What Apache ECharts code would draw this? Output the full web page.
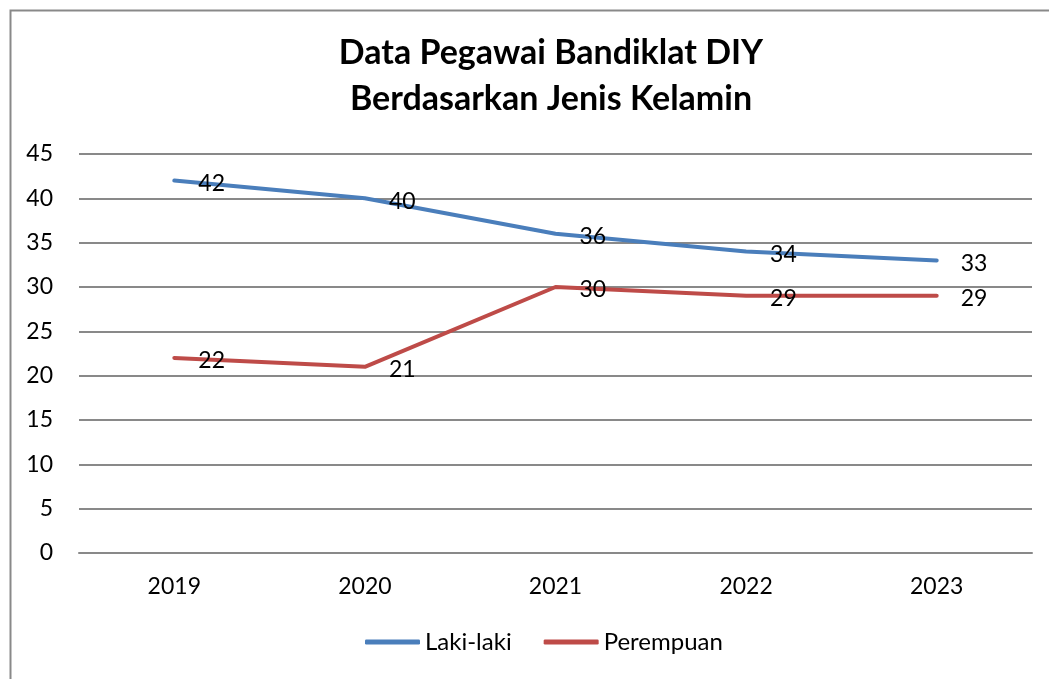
<!DOCTYPE html>
<html>
<head>
<meta charset="utf-8">
<script src="https://cdn.jsdelivr.net/npm/echarts@6/dist/echarts.min.js"></script>
<style>
  html, body { margin: 0; padding: 0; background: #fff; }
  #chart { width: 1049px; height: 679px; }
</style>
</head>
<body>
<div id="chart"></div>
<script>
const years = ['2019', '2020', '2021', '2022', '2023'];
const lakiLaki = [42, 40, 36, 34, 33];
const perempuan = [22, 21, 30, 29, 29];

const chart = echarts.init(document.getElementById('chart'));
const font = 'Lato, "Open Sans", sans-serif';

const labelStyle = {
    show: true,
    position: 'right',
    distance: 24,
    offset: [0, 3],
    color: '#000',
    fontSize: 23,
    fontFamily: font
};

const option = {
    backgroundColor: '#fff',
    animation: false,
    graphic: [{
        // outer chart border
        type: 'rect',
        shape: { x: 10.5, y: 10.5, width: 1080, height: 720 },
        style: { fill: 'none', stroke: '#898989', lineWidth: 2 }
    }],
    title: {
        text: 'Data Pegawai Bandiklat DIY\nBerdasarkan Jenis Kelamin',
        left: 546,
        textAlign: 'center',
        top: 25,
        textStyle: {
            fontFamily: font,
            fontWeight: 'bold',
            fontSize: 34,
            lineHeight: 46,
            color: '#000'
        }
    },
    legend: {
        bottom: 20,
        left: 360,
        itemWidth: 55,
        itemHeight: 5,
        itemGap: 32,
        icon: 'roundRect',
        textStyle: { fontFamily: font, fontSize: 24, color: '#000', padding: [0, 0, 0, 0] },
        data: ['Laki-laki', 'Perempuan']
    },
    grid: {
        left: 79,
        right: 17,
        top: 154,
        bottom: 126,
        containLabel: false
    },
    xAxis: {
        type: 'category',
        data: years,
        boundaryGap: true,
        axisLine: { show: true, lineStyle: { color: '#898989', width: 2 } },
        axisTick: { show: false },
        axisLabel: { color: '#000', fontSize: 23, fontFamily: font, margin: 22 }
    },
    yAxis: {
        type: 'value',
        min: 0,
        max: 45,
        interval: 5,
        axisLine: { show: false },
        axisTick: { show: false },
        axisLabel: { color: '#000', fontSize: 23, fontFamily: font, margin: 26 },
        splitLine: { lineStyle: { color: '#898989', width: 2 } }
    },
    series: [
        {
            name: 'Laki-laki',
            type: 'line',
            data: lakiLaki,
            symbol: 'circle',
            symbolSize: 0,
            showSymbol: true,
            lineStyle: { color: '#4a7ebb', width: 4, cap: 'round' },
            itemStyle: { color: '#4a7ebb' },
            label: labelStyle
        },
        {
            name: 'Perempuan',
            type: 'line',
            data: perempuan,
            symbol: 'circle',
            symbolSize: 0,
            showSymbol: true,
            lineStyle: { color: '#be4b48', width: 4, cap: 'round' },
            itemStyle: { color: '#be4b48' },
            label: labelStyle
        }
    ]
};
chart.setOption(option);
</script>
</body>
</html>
